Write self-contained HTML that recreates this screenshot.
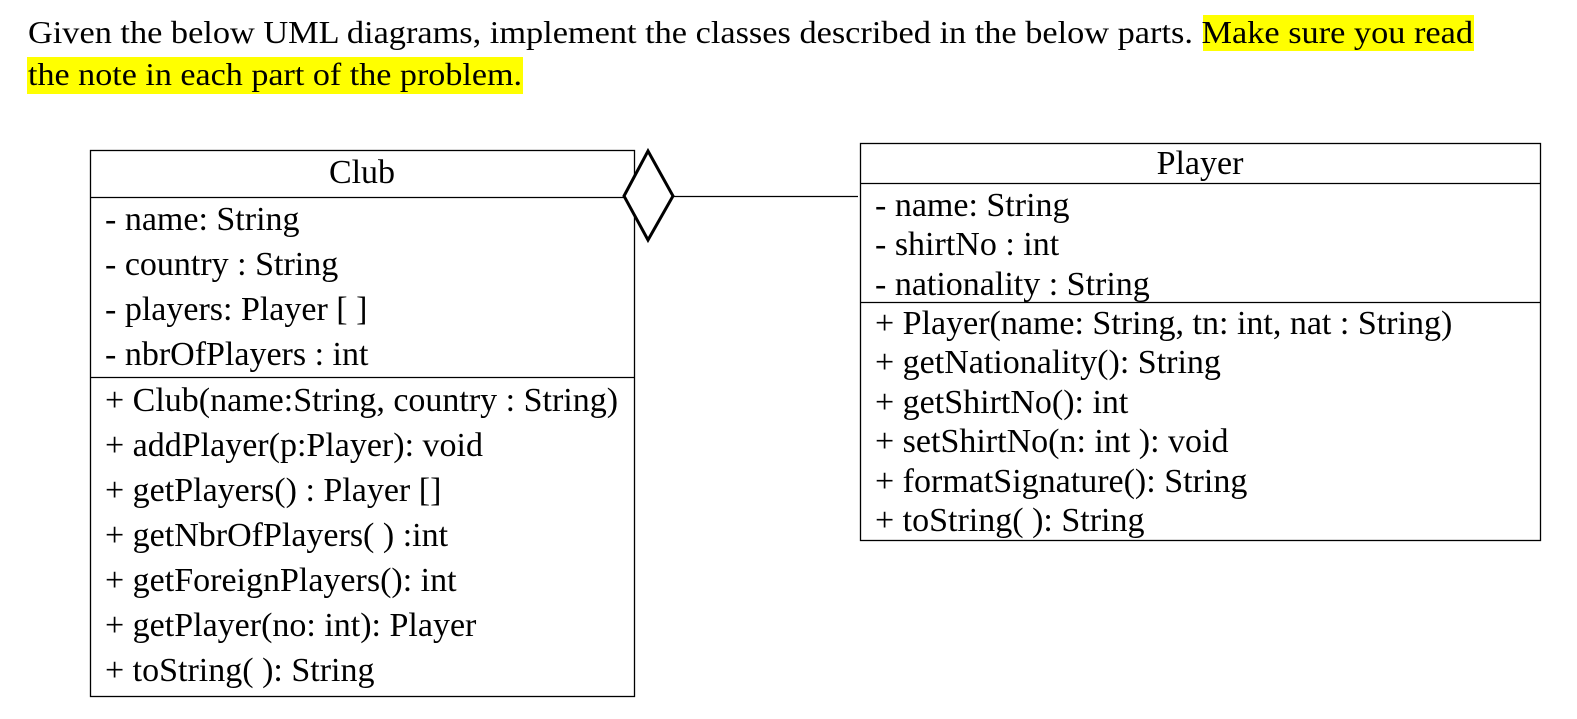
<!DOCTYPE html>
<html><head><meta charset="utf-8"><style>
body{margin:0;background:#fff;}
svg{display:block;}
text{font-family:"Liberation Serif",serif;font-size:34px;fill:#000;}
</style></head><body>
<svg width="1577" height="719" viewBox="0 0 1577 719">
<rect x="1203" y="15" width="271" height="36" fill="#ffff00"/>
<rect x="27" y="57" width="496" height="37" fill="#ffff00"/>
<text x="28" y="43" textLength="1445" lengthAdjust="spacingAndGlyphs" style="font-size:32px">Given the below UML diagrams, implement the classes described in the below parts. Make sure you read</text>
<text x="28" y="85" textLength="494" lengthAdjust="spacingAndGlyphs" style="font-size:32px">the note in each part of the problem.</text>

<g stroke="#000" stroke-width="1.3" fill="none">
<rect x="90.5" y="150.5" width="544" height="546"/>
<line x1="90" y1="197.5" x2="634" y2="197.5"/>
<line x1="90" y1="377.5" x2="634" y2="377.5"/>
</g>
<text x="362" y="183" text-anchor="middle">Club</text>
<g>
<text x="105" y="230">- name: String</text>
<text x="105" y="275">- country : String</text>
<text x="105" y="320">- players: Player [ ]</text>
<text x="105" y="365">- nbrOfPlayers : int</text>
<text x="105" y="411">+ Club(name:String, country : String)</text>
<text x="105" y="456">+ addPlayer(p:Player): void</text>
<text x="105" y="501">+ getPlayers() : Player []</text>
<text x="105" y="546">+ getNbrOfPlayers( ) :int</text>
<text x="105" y="591">+ getForeignPlayers(): int</text>
<text x="105" y="636">+ getPlayer(no: int): Player</text>
<text x="105" y="681">+ toString( ): String</text>
</g>

<polygon points="624,196 648,151 673,196 648,240" fill="#fff" stroke="#000" stroke-width="3"/>
<line x1="673" y1="196.5" x2="858" y2="196.5" stroke="#000" stroke-width="1.3"/>

<g stroke="#000" stroke-width="1.3" fill="none">
<rect x="860.5" y="143.5" width="680" height="397"/>
<line x1="860" y1="183.5" x2="1540" y2="183.5"/>
<line x1="860" y1="302.5" x2="1540" y2="302.5"/>
</g>
<text x="1200" y="174" text-anchor="middle">Player</text>
<g>
<text x="875" y="216">- name: String</text>
<text x="875" y="255">- shirtNo : int</text>
<text x="875" y="295">- nationality : String</text>
<text x="875" y="334">+ Player(name: String, tn: int, nat : String)</text>
<text x="875" y="373">+ getNationality(): String</text>
<text x="875" y="413">+ getShirtNo(): int</text>
<text x="875" y="452">+ setShirtNo(n: int ): void</text>
<text x="875" y="492">+ formatSignature(): String</text>
<text x="875" y="531">+ toString( ): String</text>
</g>
</svg>
</body></html>
